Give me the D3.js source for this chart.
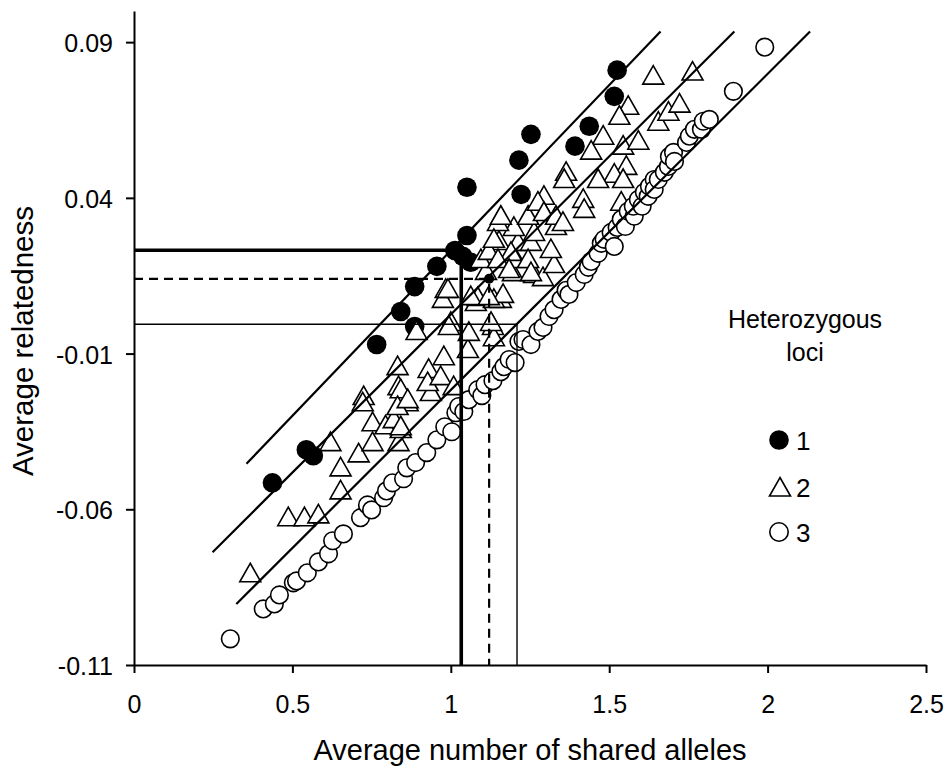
<!DOCTYPE html>
<html>
<head>
<meta charset="utf-8">
<script src="https://cdn.jsdelivr.net/npm/d3@7"></script>
<style>
  body { margin: 0; background: #fff; }
  svg { display: block; }
  text { font-family: "Liberation Sans", Arial, sans-serif; fill: #000; }
</style>
</head>
<body>
<svg id="chart"></svg>
<script>
// Data: [average shared alleles, average relatedness]
var loci1 = [
  [0.437,-0.0515],[0.544,-0.0409],[0.566,-0.0428],[0.766,-0.0071],[0.842,0.0035],
  [0.886,-0.0013],[0.886,0.0115],[0.956,0.0180],[1.013,0.0231],[1.038,0.0212],
  [1.063,0.0193],[1.051,0.0279],[1.051,0.0434],[1.215,0.0521],[1.253,0.0604],
  [1.222,0.0411],[1.392,0.0566],[1.437,0.0630],[1.516,0.0726],[1.525,0.0810]
];

var loci2 = [
  [0.367,-0.0807],[0.487,-0.0627],[0.538,-0.0627],[0.582,-0.0618],[0.652,-0.0541],
  [0.652,-0.0467],[0.620,-0.0386],[0.709,-0.0422],[0.753,-0.0386],[0.753,-0.0322],
  [0.794,-0.0332],[0.835,-0.0386],[0.842,-0.0344],[0.832,-0.0142],[0.725,-0.0238],
  [0.722,-0.0258],[0.835,-0.0206],[0.864,-0.0258],[0.930,-0.0151],[0.937,-0.0225],
  [0.927,-0.0193],[0.978,-0.0110],[0.968,-0.0174],[0.842,-0.0216],[0.820,-0.0312],
  [1.000,0.0000],[0.892,-0.0029],[1.054,-0.0087],[1.057,-0.0032],[1.133,-0.0013],
  [1.136,-0.0049],[1.009,-0.0206],[1.079,0.0064],[1.158,0.0074],[0.975,0.0074],
  [0.984,0.0106],[1.085,0.0080],[1.136,0.0074],[1.165,0.0090],[1.111,0.0164],
  [1.095,0.0202],[1.152,0.0260],[1.120,0.0228],[1.196,0.0160],[1.206,0.0202],
  [1.212,0.0257],[1.263,0.0154],[1.253,0.0257],[1.291,0.0144],[1.326,0.0186],
  [1.332,0.0308],[1.263,0.0289],[1.199,0.0305],[1.149,0.0321],[1.316,0.0234],
  [1.158,0.0341],[1.244,0.0341],[1.294,0.0405],[1.275,0.0386],[1.294,0.0353],
  [1.332,0.0341],[1.354,0.0321],[1.364,0.0482],[1.358,0.0459],[1.418,0.0395],
  [1.421,0.0363],[1.538,0.0386],[1.481,0.0598],[1.443,0.0550],[1.544,0.0566],
  [1.592,0.0582],[1.554,0.0501],[1.516,0.0476],[1.465,0.0459],[1.544,0.0459],
  [1.560,0.0694],[1.532,0.0662],[1.655,0.0643],[1.687,0.0675],[1.722,0.0701],
  [1.639,0.0791],[1.763,0.0804],[1.136,0.0267],[1.190,0.0225],[1.149,0.0202],
  [1.244,0.0202],[1.184,0.0170],[1.253,0.0160],[0.991,0.0106],[1.063,0.0083],
  [1.120,0.0083],[1.127,0.0000],[0.994,-0.0013],[0.832,-0.0270],[0.864,-0.0248],
  [0.842,-0.0335]
];

var loci3 = [
  [0.304,-0.1016],[0.408,-0.0920],[0.443,-0.0904],[0.459,-0.0875],[0.503,-0.0836],
  [0.513,-0.0830],[0.547,-0.0804],[0.582,-0.0769],[0.614,-0.0743],[0.627,-0.0701],
  [0.661,-0.0679],[0.715,-0.0627],[0.737,-0.0586],[0.750,-0.0602],[0.788,-0.0563],
  [0.797,-0.0541],[0.816,-0.0515],[0.851,-0.0502],[0.861,-0.0467],[0.889,-0.0450],
  [0.924,-0.0418],[0.956,-0.0377],[0.981,-0.0335],[1.003,-0.0351],[1.016,-0.0290],
  [1.025,-0.0270],[1.041,-0.0286],[1.057,-0.0248],[1.085,-0.0216],[1.098,-0.0235],
  [1.108,-0.0200],[1.133,-0.0187],[1.158,-0.0158],[1.168,-0.0142],[1.184,-0.0119],
  [1.203,-0.0129],[1.215,-0.0061],[1.228,-0.0055],[1.253,-0.0071],[1.275,-0.0029],
  [1.291,-0.0016],[1.310,0.0019],[1.326,0.0041],[1.348,0.0074],[1.364,0.0103],
  [1.373,0.0090],[1.396,0.0128],[1.421,0.0154],[1.434,0.0177],[1.443,0.0196],
  [1.465,0.0222],[1.475,0.0254],[1.484,0.0267],[1.506,0.0289],[1.516,0.0244],
  [1.525,0.0305],[1.538,0.0331],[1.551,0.0308],[1.560,0.0357],[1.579,0.0341],
  [1.576,0.0373],[1.592,0.0395],[1.604,0.0373],[1.611,0.0418],[1.623,0.0405],
  [1.627,0.0437],[1.642,0.0459],[1.642,0.0427],[1.655,0.0459],[1.674,0.0482],
  [1.687,0.0501],[1.690,0.0533],[1.703,0.0546],[1.706,0.0517],[1.744,0.0578],
  [1.753,0.0598],[1.769,0.0620],[1.791,0.0620],[1.797,0.0646],[1.816,0.0652],
  [1.892,0.0742],[1.991,0.0884]
];

// Fitted lines, one per class of heterozygous loci: [x1, y1, x2, y2]
var fits = [
  [0.355,-0.0454,1.662,0.0934],
  [0.248,-0.0738,1.895,0.0934],
  [0.323,-0.0904,2.134,0.0934]
];

// Read-off guides: [shared alleles, relatedness]
var guides = [
  { x: 1.033, y: 0.0232, style: 'thick' },
  { x: 1.121, y: 0.0140, style: 'dashed' },
  { x: 1.209, y: -0.0006, style: 'thin' }
];

var xTicks = [0, 0.5, 1, 1.5, 2, 2.5];
var yTicks = [-0.11, -0.06, -0.01, 0.04, 0.09];
var legendLabels = ['1', '2', '3'];

var width = 945, height = 772;

var svg = d3.select('#chart')
    .attr('width', width)
    .attr('height', height);

var x = d3.scaleLinear()
    .domain([0, 2.5])
    .range([134, 926]);
var y = d3.scaleLinear()
    .domain([-0.11, 0.1])
    .range([665, 11]);

// triangle marker, apex up
var tri = 'M0,-10.5L10.5,8L-10.5,8Z';

// Markers
svg.append('g').selectAll('circle')
    .data(loci1).enter().append('circle')
    .attr('cx', function (d) { return x(d[0]); })
    .attr('cy', function (d) { return y(d[1]); })
    .attr('r', 9.8)
    .attr('fill', '#000');

svg.append('g').selectAll('path')
    .data(loci2).enter().append('path')
    .attr('d', tri)
    .attr('transform', function (d) { return 'translate(' + x(d[0]) + ',' + y(d[1]) + ')'; })
    .attr('fill', '#fff')
    .attr('stroke', '#000')
    .attr('stroke-width', 1.6);

svg.append('g').selectAll('circle')
    .data(loci3).enter().append('circle')
    .attr('cx', function (d) { return x(d[0]); })
    .attr('cy', function (d) { return y(d[1]); })
    .attr('r', 8.8)
    .attr('fill', '#fff')
    .attr('stroke', '#000')
    .attr('stroke-width', 1.6);

// Regression lines
svg.append('g').selectAll('line')
    .data(fits).enter().append('line')
    .attr('x1', function (d) { return x(d[0]); })
    .attr('y1', function (d) { return y(d[1]); })
    .attr('x2', function (d) { return x(d[2]); })
    .attr('y2', function (d) { return y(d[3]); })
    .attr('stroke', '#000')
    .attr('stroke-width', 2.2);

// Guide lines: from the y axis across, then down to the x axis
var guideLine = d3.line()
  .x(function (d) { return x(d[0]); })
  .y(function (d) { return y(d[1]); });

svg.append('g').selectAll('path')
    .data(guides).enter().append('path')
    .attr('d', function (g) { return guideLine([[0, g.y], [g.x, g.y], [g.x, -0.11]]); })
    .attr('fill', 'none')
    .attr('stroke', '#000')
    .attr('stroke-width', function (g) { return g.style === 'thick' ? 3.6 : (g.style === 'dashed' ? 2.2 : 1.4); })
    .attr('stroke-dasharray', function (g) { return g.style === 'dashed' ? '9,6' : null; });

// small dot at the dashed corner
svg.append('circle')
    .attr('cx', x(guides[1].x))
    .attr('cy', y(guides[1].y))
    .attr('r', 5)
    .attr('fill', '#000');

// Axes
var xAxis = d3.axisBottom(x)
    .tickValues(xTicks)
    .tickSize(8)
    .tickSizeOuter(0)
    .tickFormat(function (d) { return String(d); });

var yAxis = d3.axisLeft(y)
    .tickValues(yTicks)
    .tickSize(8)
    .tickSizeOuter(0)
    .tickPadding(13)
    .tickFormat(function (d) { return d.toFixed(2); });

var gx = svg.append('g')
    .attr('transform', 'translate(0,' + y(-0.11) + ')')
    .call(xAxis);
gx.selectAll('text')
    .attr('y', 30)
    .attr('dy', '0.71em');

var gy = svg.append('g')
    .attr('transform', 'translate(' + x(0) + ',0)')
    .call(yAxis);
gy.selectAll('text')
    .attr('dy', '0.38em');

svg.selectAll('.domain, .tick line')
    .attr('stroke', '#000')
    .attr('stroke-width', 2);
svg.selectAll('.tick text')
    .attr('font-family', '"Liberation Sans", Arial, sans-serif')
    .attr('font-size', 25)
    .attr('fill', '#000');

// Axis titles
svg.append('text')
    .attr('x', (x(0) + x(2.5)) / 2)
    .attr('y', 760)
    .attr('text-anchor', 'middle')
    .style('font-size', '29px')
    .text('Average number of shared alleles');

svg.append('text')
    .attr('transform', 'translate(33,' + 341 + ') rotate(-90)')
    .attr('text-anchor', 'middle')
    .style('font-size', '29.5px')
    .text('Average relatedness');

// Legend
var legend = svg.append('g');
legend.append('text')
    .attr('x', 805)
    .attr('y', 328)
    .attr('text-anchor', 'middle')
    .style('font-size', '25px')
    .text('Heterozygous');
legend.append('text')
    .attr('x', 805)
    .attr('y', 361)
    .attr('text-anchor', 'middle')
    .style('font-size', '25px')
    .text('loci');

var legendY = [440, 487, 532];

legend.append('circle')
    .attr('cx', 779).attr('cy', legendY[0]).attr('r', 9.8)
    .attr('fill', '#000');
legend.append('path')
    .attr('d', tri)
    .attr('transform', 'translate(780,' + (legendY[1] + 1) + ')')
    .attr('fill', '#fff')
    .attr('stroke', '#000')
    .attr('stroke-width', 1.6);
legend.append('circle')
    .attr('cx', 779).attr('cy', legendY[2]).attr('r', 9.2)
    .attr('fill', '#fff')
    .attr('stroke', '#000')
    .attr('stroke-width', 1.6);

legend.selectAll('text.num')
    .data(legendLabels).enter().append('text')
    .attr('class', 'num')
    .attr('x', 796)
    .attr('y', function (d, i) { return legendY[i] + 10; })
    .style('font-size', '26px')
    .text(function (d) { return d; });
</script>
</body>
</html>
